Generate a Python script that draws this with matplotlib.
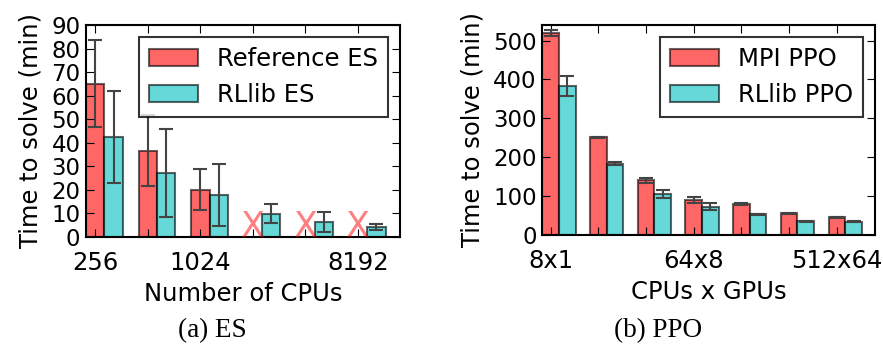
import numpy as np
import matplotlib
matplotlib.use('Agg')
import matplotlib.pyplot as plt

# ES data (minutes); missing reference ES runs are marked with an X
es_cpus = ['256', '', '1024', '', '', '8192']
es_ref = [65, 36.6, 20.1, None, None, None]
es_ref_err = [18.5, 15, 8.6, None, None, None]
es_rllib = [42.5, 27.2, 17.9, 9.9, 6.4, 4.3]
es_rllib_err = [19.5, 18.7, 13.3, 4.0, 4.4, 1.4]

# PPO data (minutes)
ppo_cfg = ['8x1', '', '', '64x8', '', '', '512x64']
ppo_mpi = [519, 251, 140, 90, 79, 56, 45]
ppo_mpi_err = [8, 1, 7, 8, 2, 1, 2]
ppo_rllib = [384, 183, 105, 73, 53, 35, 34]
ppo_rllib_err = [26, 4, 11, 9, 1, 1, 1]

plt.rcParams['font.family'] = 'DejaVu Sans'
plt.rcParams['font.size'] = 17.5
plt.rcParams['ytick.labelsize'] = 16.5
plt.rcParams['xtick.direction'] = 'in'
plt.rcParams['ytick.direction'] = 'in'
plt.rcParams['xtick.top'] = True
plt.rcParams['ytick.right'] = True
plt.rcParams['xtick.major.size'] = 6
plt.rcParams['ytick.major.size'] = 6
plt.rcParams['xtick.major.pad'] = 10
plt.rcParams['ytick.major.pad'] = 4

fig = plt.figure(figsize=(8.83, 3.47), dpi=100)
ax1 = fig.add_axes([0.0974, 0.317, 0.3556, 0.611])
ax2 = fig.add_axes([0.614, 0.323, 0.377, 0.605])

w = 0.35
bar_kw = dict(alpha=0.6, edgecolor='k', linewidth=1.5)
err_kw = dict(ecolor='#444444', elinewidth=1.5, capsize=5, capthick=1.5)

# (a) ES
x = np.arange(len(es_cpus))
ref_idx = [i for i, v in enumerate(es_ref) if v is not None]
ax1.bar([x[i] for i in ref_idx], [es_ref[i] for i in ref_idx], w,
        yerr=[es_ref_err[i] for i in ref_idx], color='r',
        label='Reference ES', error_kw=err_kw, **bar_kw)
ax1.bar(x + w, es_rllib, w, yerr=es_rllib_err, color='c',
        label='RLlib ES', error_kw=err_kw, **bar_kw)
for i, v in enumerate(es_ref):
    if v is None:
        ax1.text(x[i], 0, 'X', color='r', alpha=0.5, fontsize=25,
                 ha='center', va='baseline')
ax1.set_xlim(-0.175, len(es_cpus) - 0.2)
ax1.set_ylim(0, 90)
ax1.set_yticks(np.arange(0, 91, 10))
ax1.set_xticks(x)
ax1.set_xticklabels(es_cpus)
ax1.set_ylabel('Time to solve (min)', labelpad=6)
ax1.set_xlabel('Number of CPUs', labelpad=5)
leg = ax1.legend(loc='upper right', fancybox=False, fontsize=17.5,
                 handlelength=2.0, borderaxespad=0.5)
leg.get_frame().set_edgecolor('k')
leg.get_frame().set_linewidth(1.5)

# (b) PPO
x = np.arange(len(ppo_cfg))
ax2.bar(x, ppo_mpi, w, yerr=ppo_mpi_err, color='r', label='MPI PPO',
        error_kw=err_kw, **bar_kw)
ax2.bar(x + w, ppo_rllib, w, yerr=ppo_rllib_err, color='c',
        label='RLlib PPO', error_kw=err_kw, **bar_kw)
ax2.set_xlim(-0.175, len(ppo_cfg) - 0.2)
ax2.set_ylim(0, 540)
ax2.set_yticks(np.arange(0, 501, 100))
ax2.set_xticks(x)
ax2.set_xticklabels(ppo_cfg)
ax2.set_ylabel('Time to solve (min)', labelpad=6)
ax2.set_xlabel('CPUs x GPUs', labelpad=5)
leg = ax2.legend(loc='upper right', fancybox=False, fontsize=17.5,
                 handlelength=2.0, borderaxespad=0.5)
leg.get_frame().set_edgecolor('k')
leg.get_frame().set_linewidth(1.5)

for ax in (ax1, ax2):
    for s in ax.spines.values():
        s.set_linewidth(1.5)

fig.text(0.241, 0.048, '(a) ES', family='Liberation Serif', fontsize=19.5,
         ha='center', va='center')
fig.text(0.745, 0.048, '(b) PPO', family='Liberation Serif', fontsize=19.5,
         ha='center', va='center')

fig.savefig('out.png', dpi=100)
